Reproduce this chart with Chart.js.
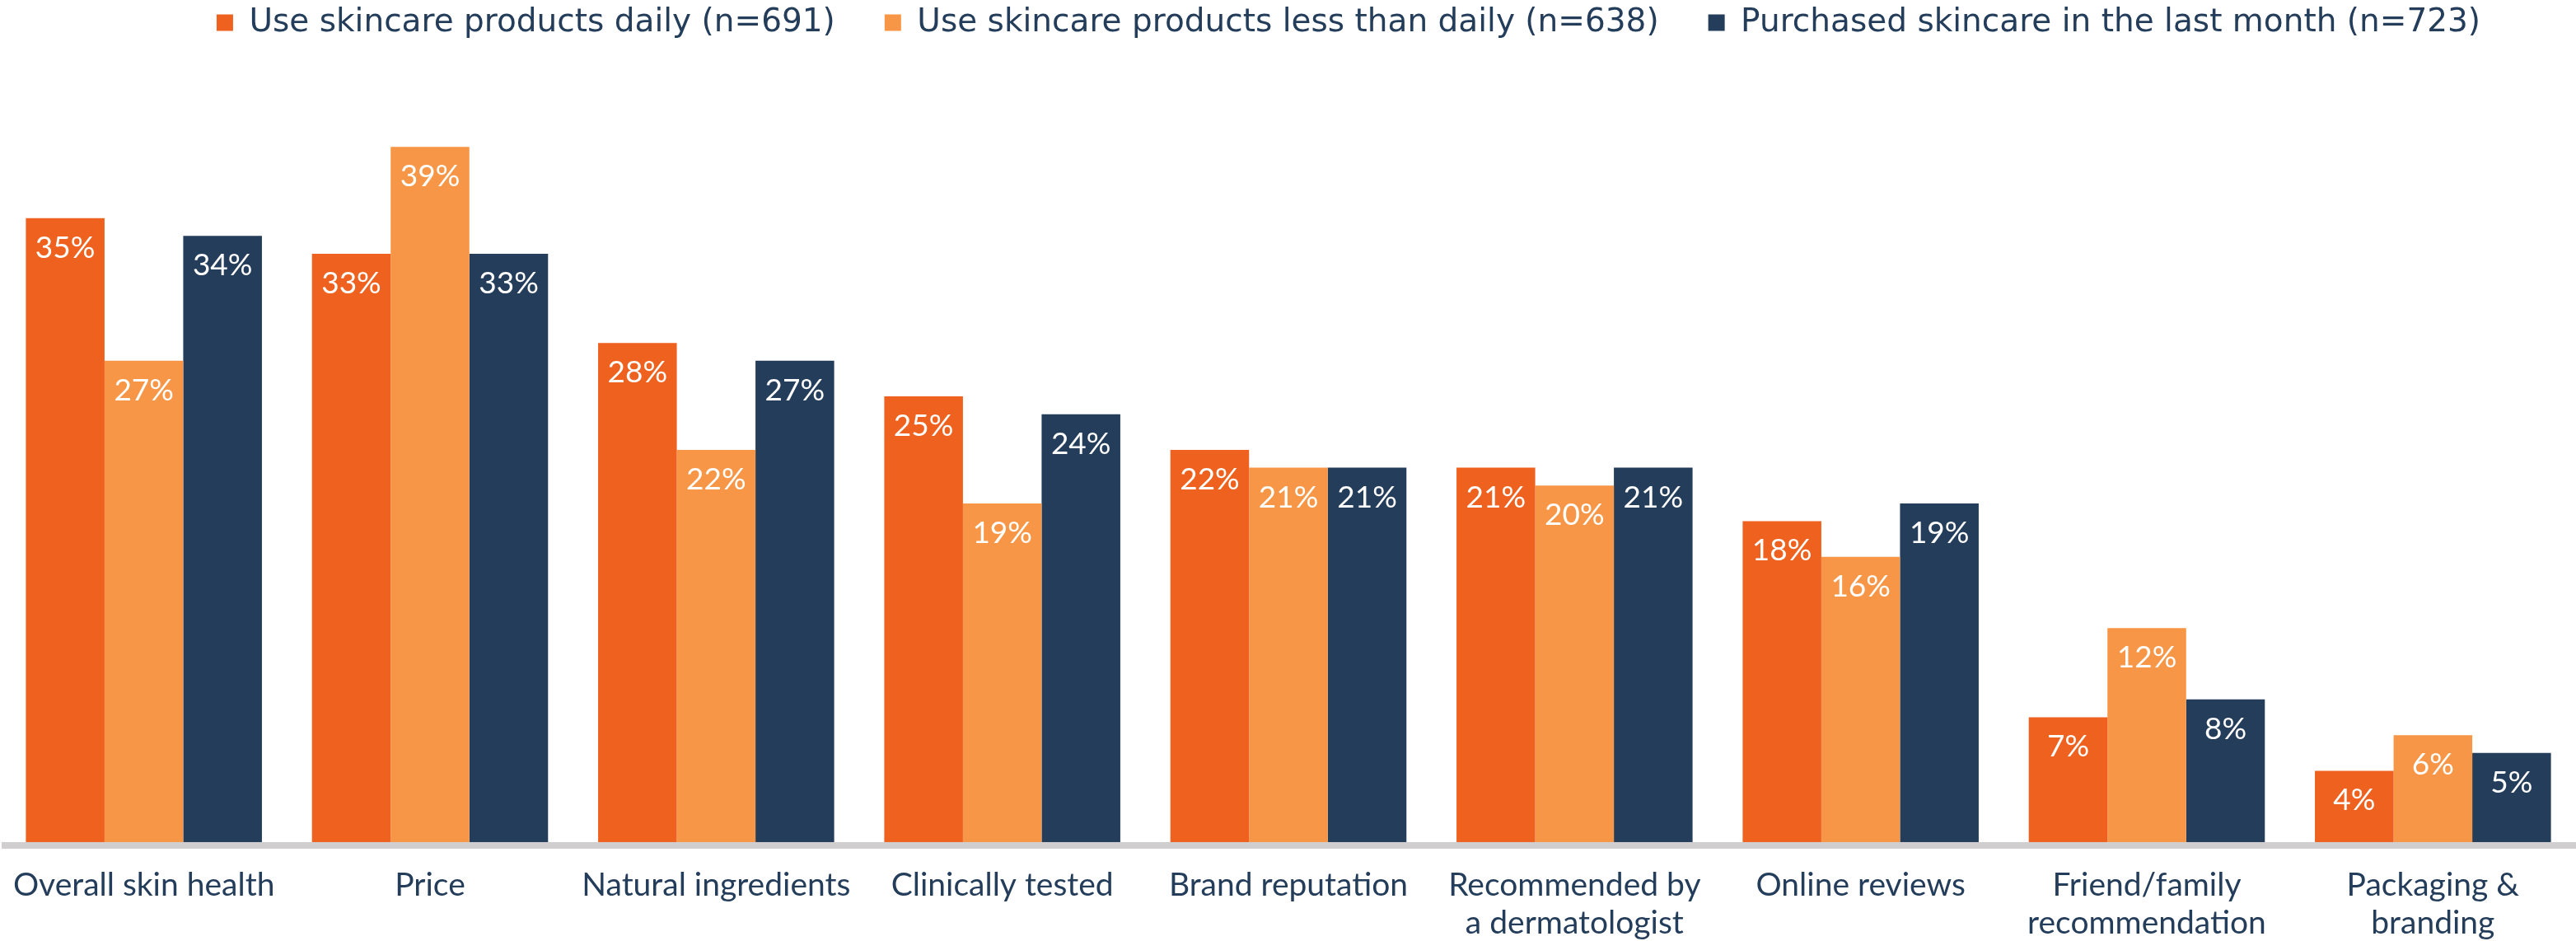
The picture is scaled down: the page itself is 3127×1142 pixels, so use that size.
<!DOCTYPE html>
<html>
<head>
<meta charset="utf-8">
<script src="https://cdn.jsdelivr.net/npm/chart.js@4"></script>
<style>
  html, body { margin: 0; padding: 0; background: #ffffff; }
  #wrap { width: 3127px; height: 1142px; }
</style>
</head>
<body>
<div id="wrap"><canvas id="chart" width="3127" height="1142"></canvas></div>
<script>
// Reasons for choosing skincare products, by usage group (% of respondents)
const categories = [
  'Overall skin health',
  'Price',
  'Natural ingredients',
  'Clinically tested',
  'Brand reputation',
  ['Recommended by', 'a dermatologist'],
  'Online reviews',
  ['Friend/family', 'recommendation'],
  ['Packaging &', 'branding']
];
const seriesNames = [
  'Use skincare products daily (n=691)',
  'Use skincare products less than daily (n=638)',
  'Purchased skincare in the last month (n=723)'
];
const dailyUsers = [35, 33, 28, 25, 22, 21, 18, 7, 4];
const lessThanDailyUsers = [27, 39, 22, 19, 21, 20, 16, 12, 6];
const recentPurchasers = [34, 33, 27, 24, 21, 21, 19, 8, 5];

const seriesColors = ['#EF611E', '#F79646', '#243D5A'];
const textColor = '#243D5A';
const fontFamily = 'Lato, "Noto Sans", sans-serif';
const legendFont = '"DejaVu Sans", Lato, sans-serif';

// White value labels just inside the top of each bar
const valueLabels = {
  id: 'valueLabels',
  afterDatasetsDraw(chart) {
    const ctx = chart.ctx;
    ctx.save();
    ctx.fillStyle = '#ffffff';
    ctx.font = '37px ' + fontFamily;
    ctx.textAlign = 'center';
    ctx.textBaseline = 'middle';
    chart.data.datasets.forEach((ds, i) => {
      const meta = chart.getDatasetMeta(i);
      meta.data.forEach((bar, j) => {
        ctx.fillText(ds.data[j] + '%', bar.x, bar.y + 36);
      });
    });
    ctx.restore();
  }
};

// Thick grey baseline under the bars
const baseLine = {
  id: 'baseLine',
  afterDatasetsDraw(chart) {
    const ctx = chart.ctx;
    const area = chart.chartArea;
    ctx.save();
    ctx.fillStyle = '#D0CECE';
    ctx.fillRect(Math.max(area.left, 2), area.bottom, chart.width, 8);
    ctx.restore();
  }
};

// Nudge the legend row a little to the right of centre
const legendShift = {
  id: 'legendShift',
  afterLayout(chart) {
    const lg = chart.legend;
    if (lg) { lg.left += 70; lg.right += 70; }
  }
};

new Chart(document.getElementById('chart'), {
  type: 'bar',
  data: {
    labels: categories,
    datasets: [
      { label: seriesNames[0], data: dailyUsers, backgroundColor: seriesColors[0] },
      { label: seriesNames[1], data: lessThanDailyUsers, backgroundColor: seriesColors[1] },
      { label: seriesNames[2], data: recentPurchasers, backgroundColor: seriesColors[2] }
    ]
  },
  options: {
    responsive: false,
    animation: false,
    devicePixelRatio: 1,
    layout: { padding: { left: 1, right: -6, top: -52, bottom: -30 } },
    datasets: {
      bar: { categoryPercentage: 0.825, barPercentage: 1.0, borderWidth: 0 }
    },
    plugins: {
      tooltip: { enabled: false },
      legend: {
        position: 'top',
        align: 'center',
        labels: {
          boxWidth: 20,
          boxHeight: 20,
          padding: 60,
          color: textColor,
          font: { family: legendFont, size: 39 }
        }
      }
    },
    scales: {
      x: {
        grid: { display: false, drawTicks: false },
        border: { display: false },
        afterFit(scale) { scale.paddingLeft = 0; scale.paddingRight = 0; },
        ticks: {
          color: textColor,
          padding: 29,
          maxRotation: 0,
          autoSkip: false,
          font: { family: fontFamily, size: 39, lineHeight: 1.18 }
        }
      },
      y: {
        display: false,
        min: 0,
        max: 44.6,
        grid: { display: false }
      }
    }
  },
  plugins: [valueLabels, baseLine, legendShift]
});
</script>
</body>
</html>
